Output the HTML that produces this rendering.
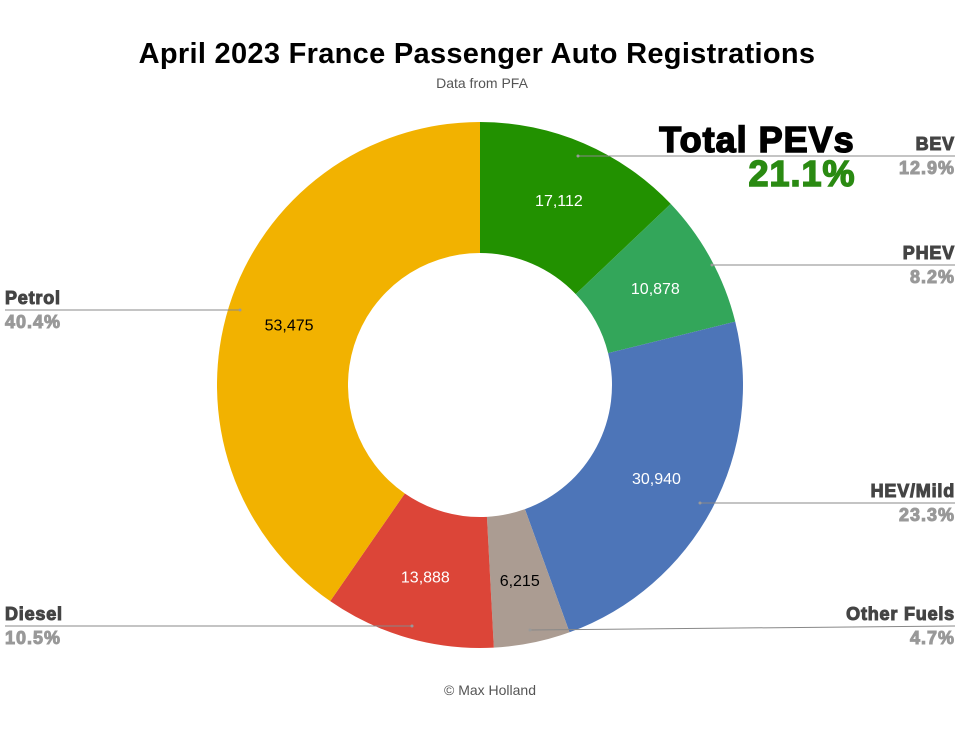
<!DOCTYPE html>
<html><head><meta charset="utf-8"><style>
body{margin:0;background:#fff;}
svg{display:block;font-family:"Liberation Sans",sans-serif;}
.nm{font-weight:900;font-size:18px;fill:#444;stroke:#444;stroke-width:1px;letter-spacing:0.8px;}
.pc{font-weight:900;font-size:18px;fill:#999;stroke:#999;stroke-width:1px;letter-spacing:1px;}
</style></head><body>
<svg id="c" width="962" height="750">
<text x="477" y="63" text-anchor="middle" font-size="29" font-weight="bold" fill="#000" letter-spacing="0.3">April 2023 France Passenger Auto Registrations</text>
<text x="482" y="88" text-anchor="middle" font-size="14" fill="#555">Data from PFA</text>
<text x="757" y="152" text-anchor="middle" font-size="36" font-weight="900" fill="#000" stroke="#000" stroke-width="1.5" letter-spacing="1">Total PEVs</text>
<text x="802" y="186" text-anchor="middle" font-size="36" font-weight="900" fill="#2a8a12" stroke="#2a8a12" stroke-width="1.5" letter-spacing="1">21.1%</text>
<text x="490" y="695" text-anchor="middle" font-size="14" fill="#555">© Max Holland</text>
</svg>
<script>
const categories=["BEV","PHEV","HEV/Mild","Other Fuels","Diesel","Petrol"];
const values=[17112,10878,30940,6215,13888,53475];
const percents=["12.9%","8.2%","23.3%","4.7%","10.5%","40.4%"];
const valueLabels=["17,112","10,878","30,940","6,215","13,888","53,475"];
const colors=["#229100","#33a65a","#4d75b8","#ab9c92","#dc4538","#f2b200"];
const textColors=["#fff","#fff","#fff","#000","#fff","#000"];
// layout for callouts: [lineX1,lineY1,lineX2,lineY2,side]
const callouts=[[578,156,955,156,"r"],[712,265,955,265,"r"],[700,503,955,503,"r"],[530,630,955,626,"r"],[412,626,5,626,"l"],[240,310,5,310,"l"]];
const NS="http://www.w3.org/2000/svg";
const svg=document.getElementById('c');
const cx=480,cy=385,R=263,r0=132;
const total=values.reduce((a,b)=>a+b,0);
function pt(a,rad){return [cx+Math.sin(a)*rad,cy-Math.cos(a)*rad];}
let acc=0;
values.forEach((v,i)=>{
  const a0=acc/total*2*Math.PI;acc+=v;const a1=acc/total*2*Math.PI;
  const lg=(a1-a0)>Math.PI?1:0;
  const p1=pt(a0,R),p2=pt(a1,R),p3=pt(a1,r0),p4=pt(a0,r0);
  const p=document.createElementNS(NS,'path');
  p.setAttribute('d',`M${p1}A${R},${R} 0 ${lg} 1 ${p2}L${p3}A${r0},${r0} 0 ${lg} 0 ${p4}Z`);
  p.setAttribute('fill',colors[i]);
  
  
  svg.appendChild(p);
  const m=(a0+a1)/2,lp=pt(m,200);
  const t=document.createElementNS(NS,'text');
  t.setAttribute('x',lp[0]);t.setAttribute('y',lp[1]+5);
  t.setAttribute('text-anchor','middle');t.setAttribute('font-size','16');
  t.setAttribute('fill',textColors[i]);t.textContent=valueLabels[i];
  
  
  svg.appendChild(t);
});
callouts.forEach((c,i)=>{
  const l=document.createElementNS(NS,'line');
  l.setAttribute('x1',c[0]);l.setAttribute('y1',c[1]);l.setAttribute('x2',c[2]);l.setAttribute('y2',c[3]);
  l.setAttribute('stroke','#888');l.setAttribute('stroke-width','1');
  
  
  svg.appendChild(l);
  const d=document.createElementNS(NS,'circle');
  d.setAttribute('cx',c[0]);d.setAttribute('cy',c[1]);d.setAttribute('r','1.5');d.setAttribute('fill','#999');
  
  
  svg.appendChild(d);
  const x=c[4]=="r"?955:5,anc=c[4]=="r"?"end":"start",y=c[4]=="r"?c[3]:c[1];
  const n=document.createElementNS(NS,'text');
  n.setAttribute('x',x);n.setAttribute('y',y-6);n.setAttribute('text-anchor',anc);n.setAttribute('class','nm');
  n.textContent=categories[i];
  
  
  svg.appendChild(n);
  const q=document.createElementNS(NS,'text');
  q.setAttribute('x',x);q.setAttribute('y',y+18);q.setAttribute('text-anchor',anc);q.setAttribute('class','pc');
  q.textContent=percents[i];
  
  
  svg.appendChild(q);
});
</script>
</body></html>
